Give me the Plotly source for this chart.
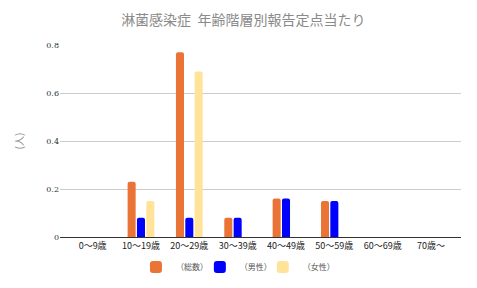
import plotly.graph_objects as go

categories = ["0～9歳", "10～19歳", "20～29歳", "30～39歳", "40～49歳", "50～59歳", "60～69歳", "70歳～"]
total = [None, 0.23, 0.77, 0.08, 0.16, 0.15, None, None]
male = [None, 0.08, 0.08, 0.08, 0.16, 0.15, None, None]
female = [None, 0.15, 0.69, None, None, None, None, None]
series_names = ["（総数）", "（男性）", "（女性）"]
colors = ["#EA7336", "#0000FF", "#FFE398"]

font = "Noto Sans CJK JP"
legend_ids = ["legend", "legend2", "legend3"]
legend_x = [0.285, 0.419, 0.551]

fig = go.Figure()
for name, vals, c, lid in zip(series_names, [total, male, female], colors, legend_ids):
    fig.add_trace(go.Bar(x=categories, y=vals, name=name, marker_color=c, marker_line_width=0, legend=lid))

legend_common = dict(orientation="h", xanchor="left", xref="container", yref="container", y=0.073,
                     yanchor="middle", font=dict(family=font, size=8, color="#555555"), itemwidth=30,
                     bgcolor="rgba(0,0,0,0)")
fig.update_layout(
    width=477, height=288,
    margin=dict(l=60, r=16, t=45, b=51, autoexpand=False),
    paper_bgcolor="white", plot_bgcolor="white",
    title=dict(text="淋菌感染症  年齢階層別報告定点当たり", x=0.51, xanchor="center", y=0.93, yanchor="middle",
               font=dict(family=font, size=14, color="#8a8a8a")),
    barmode="group", bargap=0.42, bargroupgap=0.14, barcornerradius=2,
    showlegend=True,
    font=dict(family=font),
)
for lid, lx in zip(legend_ids, legend_x):
    fig.update_layout({lid: dict(legend_common, x=lx)})

fig.update_xaxes(range=[-0.675, 7.62], showgrid=False, showline=True, linecolor="#333333", linewidth=1,
                 tickfont=dict(family=font, size=9, color="#222222"), ticks="")
fig.update_yaxes(range=[0, 0.8], showgrid=True, gridcolor="#cccccc", zeroline=False,
                 tickfont=dict(family="DejaVu Serif", size=8, color="#333333"), ticks="",
                 tickvals=[0, 0.2, 0.4, 0.6, 0.8], ticktext=["0", "0.2", "0.4", "0.6", "0.8"],
                 title=dict(text="(人)", font=dict(family=font, size=10, color="#888888"), standoff=20))
fig.write_html("out.html")
